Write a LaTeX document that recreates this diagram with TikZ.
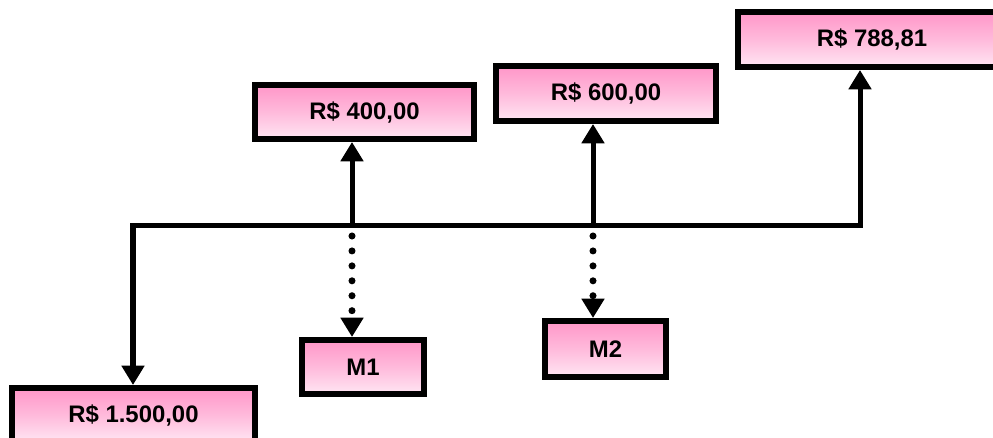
\documentclass[tikz,border=0pt]{standalone}
\usepackage{fontspec}
\setmainfont{Liberation Sans}
\usetikzlibrary{arrows.meta}

\begin{document}
\begin{tikzpicture}[>={Triangle[width=12.5pt,length=11pt]},
		valor/.style={draw=black, line width=3.4pt, inner sep=0pt,
			top color=rosa, bottom color=rosaclaro, middle color=rosa!55!rosaclaro,
			font=\fontsize{13.6}{15}\selectfont\bfseries},
		fio/.style={line width=2.85pt},
		pontos/.style={line width=4pt, line cap=round, dash pattern=on 0pt off 8.5pt}]
		\definecolor{rosa}{RGB}{255,150,200}
		\definecolor{rosaclaro}{RGB}{255,230,243}
		\useasboundingbox (0,0) rectangle (19.86,8.76);
		
		% caixas de valores
		\node[valor, minimum width=4.38cm, minimum height=1.08cm] (v400) at (7.29,6.52) {R\$ 400,00};
		\node[valor, minimum width=4.40cm, minimum height=1.10cm] (v600) at (12.12,6.89) {R\$ 600,00};
		\node[valor, minimum width=5.36cm, minimum height=1.10cm] (v788) at (17.44,7.97) {R\$ 788,81};
		\node[valor, minimum width=4.86cm, minimum height=1.08cm] (v1500) at (2.67,0.46) {R\$ 1.500,00};
		\node[valor, minimum width=2.44cm, minimum height=1.08cm] (m1) at (7.26,1.42) {M1};
		\node[valor, minimum width=2.42cm, minimum height=1.12cm] (m2) at (12.11,1.78) {M2};
		
		% linha do tempo
		\coordinate (l0) at (2.66,4.24);
		\coordinate (l1) at (7.04,4.24);
		\coordinate (l2) at (11.86,4.24);
		\coordinate (l3) at (17.20,4.24);
		\draw[fio, <->] (v1500.north -| l0) -- (l0) -- (l3) -- (l3 |- v788.south);
		
		% entradas e meses
		\draw[fio, ->] (l1) -- (l1 |- v400.south);
		\draw[fio, ->] (l2) -- (l2 |- v600.south);
		\draw[pontos, ->] ([yshift=-0.2cm]l1) -- (l1 |- m1.north);
		\draw[pontos, ->] ([yshift=-0.2cm]l2) -- (l2 |- m2.north);
	\end{tikzpicture}
\end{document}
